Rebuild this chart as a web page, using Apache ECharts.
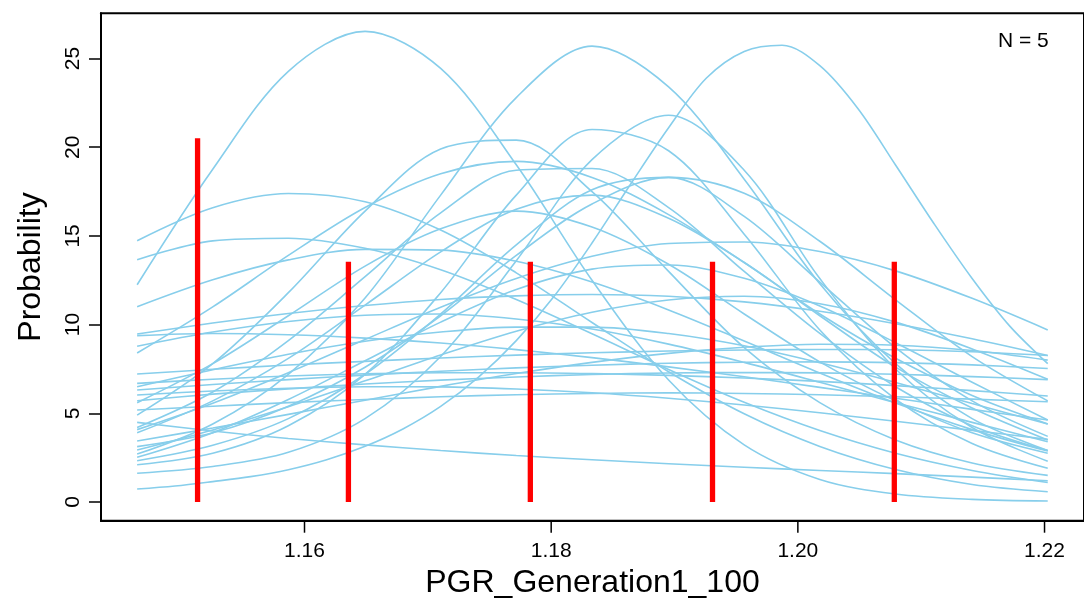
<!DOCTYPE html>
<html>
<head>
<meta charset="utf-8">
<script src="https://cdn.jsdelivr.net/npm/echarts@6/dist/echarts.min.js"></script>
<style>
html,body{margin:0;padding:0;background:#fff;}
#chart{width:1084px;height:606px;}
</style>
</head>
<body>
<div id="chart"></div>
<script>
// sample positions (PGR_Generation1_100) shared by the density curves
const xs = [1.14643, 1.15256, 1.15869, 1.16491, 1.17104, 1.17717, 1.18331, 1.18952, 1.19565, 1.20178, 1.20792, 1.21413, 1.22026];
// finer sample positions used for the sharpest right-hand peak
const xsFine = [1.14643, 1.14950, 1.15256, 1.15563, 1.15869, 1.16180, 1.16491, 1.16798, 1.17104, 1.17411, 1.17717, 1.18024, 1.18331,
  1.18642, 1.18952, 1.19259, 1.19565, 1.19872, 1.20178, 1.20485, 1.20792, 1.21103, 1.21413, 1.21720, 1.22026];

// density curves (Probability at each xs)
const curve01 = [12.25, 18.76, 24.28, 26.53, 24.44, 19.01, 12.5, 6.88, 3.22, 1.27, 0.45, 0.15, 0.06];
const curve02 = [2.7, 4.4, 7.2, 11.5, 17.3, 22.8, 25.7, 23.4, 18.2, 12.3, 7.8, 4.7, 2.9];
const curve03 = [0.73, 0.9, 1.15, 1.43, 1.82, 2.38, 3.14, 4.12, 5.39, 7.04, 9.1, 11.6, 14.6,
  17.9, 21.1, 23.9, 25.4, 25.75, 24.6, 22.2, 19.0, 15.7, 12.6, 9.9, 7.8]; // on xsFine
const curve04 = [1.62, 2.0, 2.8, 4.7, 8.2, 13.6, 19.3, 21.8, 18.7, 12.6, 7.5, 4.2, 2.3];
const curve05 = [2.1, 2.75, 4.3, 7.2, 11.8, 17.3, 21.0, 19.8, 15.1, 9.7, 5.8, 3.3, 1.9];
const curve06 = [4.9, 7.8, 11.8, 16.4, 19.9, 20.4, 17.5, 13.0, 8.7, 5.6, 3.5, 2.2, 1.5];
const curve07 = [8.4, 11.0, 13.9, 16.6, 18.5, 19.2, 18.3, 16.2, 13.5, 10.6, 8.1, 6.0, 4.4];
const curve08 = [4.2, 6.2, 9.1, 12.7, 16.3, 18.7, 18.8, 16.6, 13.0, 9.5, 6.5, 4.3, 2.9];
const curve09 = [2.33, 3.2, 4.7, 7.2, 10.6, 14.5, 17.6, 18.3, 16.1, 12.4, 8.7, 5.7, 3.7];
const curve10 = [3.12, 3.9, 5.4, 7.6, 10.5, 13.9, 16.8, 18.3, 17.4, 14.7, 11.4, 8.2, 5.7];
const curve11 = [14.73, 16.59, 17.39, 16.93, 15.33, 12.92, 10.12, 7.34, 4.97, 3.13, 1.83, 0.99, 0.58];
const curve12 = [3.9, 5.7, 8.1, 11.1, 14.1, 16.5, 17.3, 16.0, 13.5, 10.5, 7.6, 5.3, 3.5];
const curve13 = [5.6, 7.8, 10.5, 13.3, 15.4, 16.4, 15.5, 13.4, 10.6, 7.9, 5.7, 3.9, 2.75];
const curve14 = [13.66, 14.72, 14.87, 14.3, 13.09, 11.41, 9.48, 7.47, 5.62, 4.03, 2.75, 1.78, 1.1];
const curve15 = [4.08, 5.57, 7.29, 9.16, 10.98, 12.6, 13.85, 14.57, 14.66, 14.12, 13.03, 11.48, 9.7];
const curve16 = [11.01, 12.53, 13.65, 14.24, 14.2, 13.57, 12.4, 10.83, 9.07, 7.27, 5.58, 4.08, 2.87];
const curve17 = [9.47, 10.09, 10.63, 11.08, 11.42, 11.62, 11.7, 11.6, 11.28, 10.75, 10.05, 9.2, 8.26];
const curve18 = [9.38, 9.5, 9.43, 9.24, 8.96, 8.59, 8.14, 7.62, 7.06, 6.46, 5.85, 5.22, 4.62];
const curve19 = [8.78, 9.58, 10.18, 10.53, 10.6, 10.32, 9.75, 8.9, 7.87, 6.75, 5.6, 4.49, 3.4];
const curve20 = [7.22, 7.48, 7.72, 7.93, 8.12, 8.28, 8.41, 8.51, 8.57, 8.6, 8.58, 8.47, 8.26];
const curve21 = [6.69, 6.92, 7.1, 7.23, 7.29, 7.29, 7.24, 7.14, 6.99, 6.8, 6.56, 6.28, 5.98];
const curve22 = [6.31, 6.62, 6.9, 7.15, 7.37, 7.56, 7.71, 7.82, 7.88, 7.9, 7.86, 7.73, 7.53];
const curve23 = [6.03, 6.26, 6.41, 6.5, 6.49, 6.37, 6.16, 5.85, 5.47, 5.03, 4.55, 4.04, 3.53];
const curve24 = [5.71, 6.08, 6.38, 6.65, 6.87, 7.05, 7.19, 7.27, 7.3, 7.28, 7.2, 7.07, 6.9];
const curve25 = [3.44, 4.17, 4.94, 5.74, 6.52, 7.24, 7.87, 8.38, 8.72, 8.89, 8.84, 8.54, 8.0];
const curve26 = [2.93, 4.06, 5.37, 6.83, 8.29, 9.63, 10.7, 11.39, 11.6, 11.18, 10.14, 8.63, 6.92];
const curve27 = [2.52, 3.91, 5.78, 7.96, 10.14, 11.98, 13.13, 13.36, 12.61, 11.05, 8.98, 6.75, 4.62];
const curve28 = [4.49, 4.0, 3.58, 3.22, 2.9, 2.62, 2.38, 2.16, 1.96, 1.78, 1.6, 1.4, 1.2];
const curve29 = [5.19, 5.4, 5.6, 5.78, 5.93, 6.05, 6.12, 6.15, 6.12, 6.05, 5.93, 5.8, 5.65];
const curve30 = [6.5, 7.46, 8.33, 9.06, 9.58, 9.86, 9.86, 9.5, 8.81, 7.85, 6.74, 5.55, 4.4];

// red observation bars
const barX = [1.15133, 1.16356, 1.17831, 1.19308, 1.20782];
const barH = [20.5, 13.55, 13.55, 13.55, 13.55];

// tick values
const xTicks = [1.16, 1.18, 1.20, 1.22];
const yTicks = [0, 5, 10, 15, 20, 25];

const curves = [curve01, curve02, curve03, curve04, curve05, curve06, curve07, curve08, curve09, curve10,
  curve11, curve12, curve13, curve14, curve15, curve16, curve17, curve18, curve19, curve20,
  curve21, curve22, curve23, curve24, curve25, curve26, curve27, curve28, curve29, curve30];

const FONT = "'Liberation Sans', Arial, Helvetica, sans-serif";
const Y_MIN = -1.054, Y_MAX = 27.55;

const series = [];
curves.forEach(function (c, i) {
  const grid = (c.length === xsFine.length) ? xsFine : xs;
  series.push({
    type: 'line',
    name: 'curve' + (i + 1),
    data: grid.map(function (x, k) { return [x, c[k]]; }),
    smooth: 0.33,
    showSymbol: false,
    symbol: 'none',
    silent: true,
    lineStyle: { color: '#87CEEB', width: 1.6 },
    z: 2
  });
});
barX.forEach(function (x, i) {
  series.push({
    type: 'line',
    name: 'bar' + (i + 1),
    data: [[x, 0], [x, barH[i]]],
    showSymbol: false,
    symbol: 'none',
    silent: true,
    lineStyle: { color: '#FF0000', width: 5.3, cap: 'butt' },
    z: 5
  });
});

const chart = echarts.init(document.getElementById('chart'), null, { renderer: 'canvas' });
chart.setOption({
  animation: false,
  backgroundColor: '#ffffff',
  grid: {
    left: 101, right: -4, top: 13.3, bottom: 85.3,
    show: true, borderColor: '#000', borderWidth: 2, backgroundColor: 'transparent'
  },
  xAxis: {
    type: 'value',
    min: 1.1435, max: 1.2232,
    name: 'PGR_Generation1_100',
    nameLocation: 'middle',
    nameGap: 46,
    nameTextStyle: { fontFamily: FONT, fontSize: 32, color: '#000' },
    axisLine: { show: true, onZero: false, lineStyle: { color: '#000', width: 2 } },
    splitLine: { show: false },
    axisTick: { show: false },
    axisLabel: {
      customValues: xTicks, margin: 20,
      fontFamily: FONT, fontSize: 21, color: '#000',
      formatter: function (v) { return v.toFixed(2); }
    }
  },
  yAxis: {
    type: 'value',
    min: Y_MIN, max: Y_MAX,
    name: 'Probability',
    nameLocation: 'middle',
    nameGap: 54,
    nameRotate: 90,
    nameTextStyle: { fontFamily: FONT, fontSize: 32, color: '#000' },
    axisLine: { show: true, onZero: false, lineStyle: { color: '#000', width: 2 } },
    splitLine: { show: false },
    axisTick: { show: true, inside: false, length: 12, customValues: yTicks, lineStyle: { color: '#000', width: 1.5 } },
    axisLabel: {
      customValues: yTicks, rotate: 90, margin: 17,
      fontFamily: FONT, fontSize: 21, color: '#000'
    }
  },
  series: series
});

// x-axis tick marks below the frame, positioned through the chart's own x scale
const tickGraphics = xTicks.map(function (v) {
  const p = chart.convertToPixel({ xAxisIndex: 0, yAxisIndex: 0 }, [v, Y_MIN]);
  return {
    type: 'line',
    silent: true,
    z: 100,
    shape: { x1: p[0], y1: p[1], x2: p[0], y2: p[1] + 12 },
    style: { stroke: '#000', lineWidth: 1.5 }
  };
});
tickGraphics.push({
  type: 'text',
  left: 998, top: 31,
  style: { text: 'N = 5', fontFamily: FONT, fontSize: 21, fill: '#000' }
});
chart.setOption({ graphic: tickGraphics });
</script>
</body>
</html>
